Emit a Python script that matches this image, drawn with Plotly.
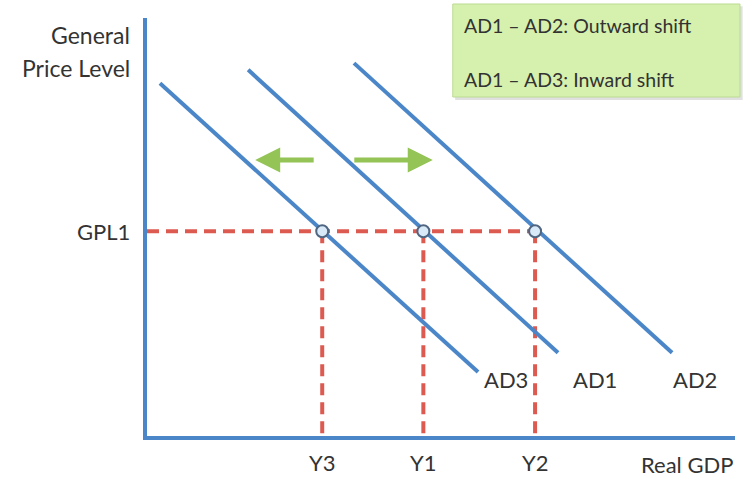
import plotly.graph_objects as go

# ---- data (abstract units: Real GDP 0-100, Price level 0-100) ----
curve_names = ["AD3", "AD1", "AD2"]
curve_x_start = [2.2, 17.2, 35.2]
curve_y_start = [84.4, 87.6, 89.2]
curve_x_end = [56.3, 69.9, 89.3]
curve_y_end = [15.3, 19.9, 19.9]

gpl1 = 49.0
y_names = ["Y3", "Y1", "Y2"]
y_values = [29.8, 47.0, 66.0]

label_x = [61.1, 76.2, 93.2]
label_y = 13.4

arrow_y = 66.0
arrow_left = (28.6, 18.4)   # tail, head
arrow_right = (35.0, 48.6)

legend_lines = ["AD1 – AD2: Outward shift", "AD1 – AD3: Inward shift"]

BLUE = "#4a86c8"
RED = "#dc5a50"
GREEN = "#93c455"
TXT = "#333333"
FONT = "Lato"

fig = go.Figure()

# dashed guide lines
fig.add_trace(go.Scatter(x=[0, max(y_values)], y=[gpl1, gpl1], mode="lines",
                         line=dict(color=RED, width=4, dash="12px,7px"),
                         hoverinfo="skip", showlegend=False))
for xv in y_values:
    fig.add_trace(go.Scatter(x=[xv, xv], y=[gpl1, 0], mode="lines",
                             line=dict(color=RED, width=4, dash="12px,7px"),
                             hoverinfo="skip", showlegend=False))

# AD curves
for i, n in enumerate(curve_names):
    fig.add_trace(go.Scatter(x=[curve_x_start[i], curve_x_end[i]],
                             y=[curve_y_start[i], curve_y_end[i]],
                             mode="lines", line=dict(color=BLUE, width=4),
                             name=n, showlegend=False))

# intersection markers
fig.add_trace(go.Scatter(x=y_values, y=[gpl1] * 3, mode="markers",
                         marker=dict(size=12, color="#d8e9f8",
                                     line=dict(color="#4f6580", width=2)),
                         showlegend=False))


def txt(size):
    return dict(size=size, color=TXT, family=FONT)


ann = []
# curve labels
for i, n in enumerate(curve_names):
    ann.append(dict(x=label_x[i], y=label_y, xref="x", yref="y", text=n,
                    xanchor="center", yanchor="middle",
                    showarrow=False, font=txt(22)))
# Y labels
for n, xv in zip(y_names, y_values):
    ann.append(dict(x=xv, y=-0.064, xref="x", yref="paper", text=n,
                    xanchor="center", yanchor="middle",
                    showarrow=False, font=txt(22)))
# axis labels
ann.append(dict(x=1.0, y=-0.069, xref="paper", yref="paper", text="Real GDP",
                xanchor="right", yanchor="middle", showarrow=False, font=txt(22)))
ann.append(dict(x=-0.025, y=0.959, xref="paper", yref="paper", text="General",
                xanchor="right", yanchor="middle", showarrow=False, font=txt(23)))
ann.append(dict(x=-0.025, y=0.880, xref="paper", yref="paper", text="Price Level",
                xanchor="right", yanchor="middle", showarrow=False, font=txt(23)))
ann.append(dict(x=-0.025, y=gpl1, xref="paper", yref="y", text="GPL1",
                xanchor="right", yanchor="middle", showarrow=False, font=txt(22)))
# legend box text
for t, yy in zip(legend_lines, [0.983, 0.852]):
    ann.append(dict(x=0.5357, y=yy, xref="paper", yref="paper", text=t,
                    xanchor="left", yanchor="middle", showarrow=False,
                    font=txt(19.5)))
# green arrows
for tail, head in [arrow_left, arrow_right]:
    ann.append(dict(x=head, y=arrow_y, ax=tail, ay=arrow_y, xref="x", yref="y",
                    axref="x", ayref="y", text="", showarrow=True,
                    arrowhead=2, arrowsize=1.0, arrowwidth=5, arrowcolor=GREEN))

shapes = [
    dict(type="rect", xref="paper", yref="paper", x0=0.524, x1=1.013,
         y0=0.804, y1=1.028, fillcolor="rgba(0,0,0,0.12)", line=dict(width=0),
         layer="below"),
    dict(type="rect", xref="paper", yref="paper", x0=0.520, x1=1.0085,
         y0=0.811, y1=1.0335, fillcolor="#d6f0ae",
         line=dict(color="#bcdc94", width=1)),
]

fig.update_layout(
    width=744, height=480,
    margin=dict(l=147, r=9, t=18, b=44),
    paper_bgcolor="white", plot_bgcolor="white",
    xaxis=dict(range=[0, 100], showgrid=False, zeroline=False, showticklabels=False,
               ticks="", showline=True, linecolor=BLUE, linewidth=4, fixedrange=True),
    yaxis=dict(range=[0, 100], showgrid=False, zeroline=False, showticklabels=False,
               ticks="", showline=True, linecolor=BLUE, linewidth=4, fixedrange=True),
    annotations=ann, shapes=shapes, showlegend=False, hovermode=False,
)

fig.write_html("out.html",
               config={"displayModeBar": False, "staticPlot": True},
               post_script="document.body.style.margin='0';"
                           "document.body.style.overflow='hidden';")
